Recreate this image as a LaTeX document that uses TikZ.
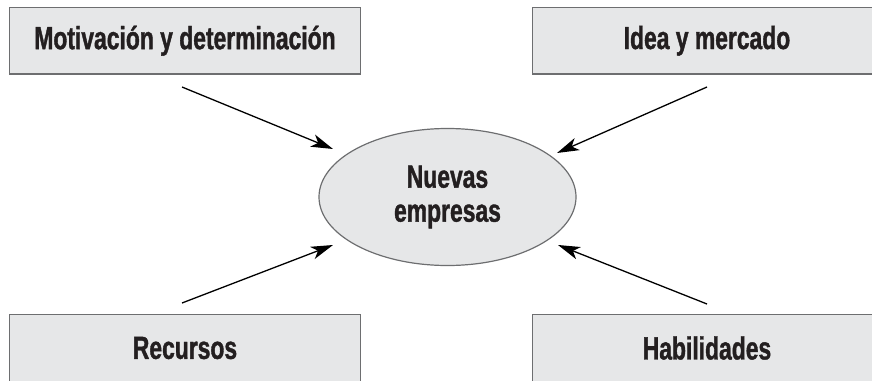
\documentclass[tikz,border=0pt]{standalone}
\usepackage{fontspec}
\newfontfamily\condbold[FakeStretch=0.715, FakeBold=1.2]{Liberation Sans Bold}
\usetikzlibrary{arrows.meta,shapes.geometric}
\definecolor{boxfill}{HTML}{E6E7E8}
\definecolor{boxline}{HTML}{6D6E70}
\definecolor{txt}{HTML}{231F20}
\tikzset{
  topic/.style={draw=boxline, line width=1.2pt, fill=boxfill, minimum height=66.5pt,
    inner sep=0pt, font=\condbold\fontsize{32}{34}\selectfont, text=txt},
  center/.style={ellipse, draw=boxline, line width=1.2pt, fill=boxfill, minimum width=257pt,
    minimum height=137pt, inner sep=0pt, align=center,
    font=\condbold\fontsize{32}{34}\selectfont, text=txt},
  arr/.style={line width=1.3pt, -{Stealth[length=22pt, width=13pt, inset=6pt]}}
}
\begin{document}
\begin{tikzpicture}[x=1pt, y=-1pt]
\useasboundingbox (0,0) rectangle (872,380);
\begin{scope}
\clip (0,0) rectangle (872,380);
\node[topic, minimum width=351pt] (mot) at (185,40.75) {Motivación y determinación};
\node[topic, minimum width=349pt] (idea) at (707,40.75) {Idea y mercado};
\node[topic, minimum width=351pt] (rec) at (185,348) {Recursos};
\node[topic, minimum width=349pt] (hab) at (707,348) {Habilidades};
\node[center] (ne) at (447.5,197) {Nuevas\\empresas};
\end{scope}
\coordinate (s1) at (182,87);
\coordinate (t1) at (333,149);
\coordinate (s2) at (707,87);
\coordinate (t2) at (557,153);
\coordinate (s3) at (182,303);
\coordinate (t3) at (333,245);
\coordinate (s4) at (707,304);
\coordinate (t4) at (558,245);
\draw[arr] (s1) -- (t1);
\draw[arr] (s2) -- (t2);
\draw[arr] (s3) -- (t3);
\draw[arr] (s4) -- (t4);
\end{tikzpicture}
\end{document}
